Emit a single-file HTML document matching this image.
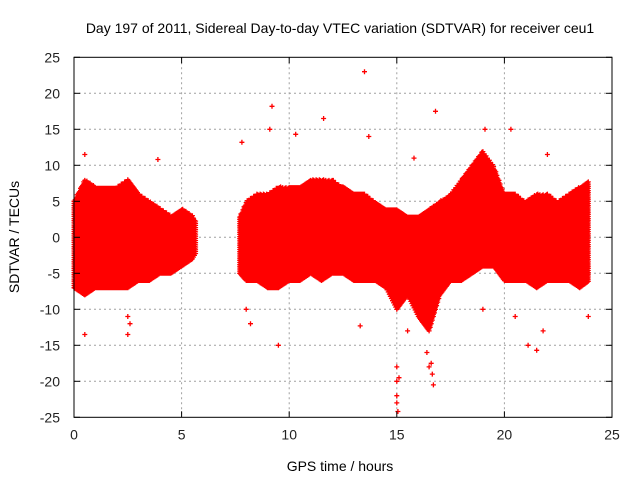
<!DOCTYPE html>
<html><head><meta charset="utf-8"><style>
body{margin:0;background:#fff}
svg{display:block;font-family:"Liberation Sans",sans-serif}
</style></head><body>
<svg id="c" width="640" height="480">
<text x="340" y="33" font-size="14" text-anchor="middle">Day 197 of 2011, Sidereal Day-to-day VTEC variation (SDTVAR) for receiver ceu1</text>
<text x="340" y="471" font-size="14" text-anchor="middle">GPS time / hours</text>
<text transform="translate(19,237) rotate(-90)" font-size="14" text-anchor="middle">SDTVAR / TECUs</text>
<g id="grid"></g><g id="marks"></g><g id="axes"></g>
</svg>
<script>
const xTicks=[0,5,10,15,20,25];
const yTicks=[-25,-20,-15,-10,-5,0,5,10,15,20,25];
const bandTimes=[0,0.5,1,1.5,2,2.5,3,3.5,4,4.5,5,5.5,5.7,
 7.7,8,8.5,9,9.5,10,10.5,11,11.5,12,12.5,13,13.5,14,14.5,15,15.5,16,16.5,17,17.5,18,18.5,19,19.5,20,20.5,21,21.5,22,22.5,23,23.5,23.95];
const bandLow=[-7,-8,-7,-7,-7,-7,-6,-6,-5,-5,-4,-3,-2,
 -5,-6,-6,-7,-7,-6,-6,-5,-6,-5,-5,-6,-6,-6,-7,-10,-8,-11,-13,-8,-6,-6,-5,-4,-4,-6,-6,-6,-7,-6,-6,-6,-7,-6];
const bandHigh=[5,8,7,7,7,8,6,5,4,3,4,3,2,
 3,5,6,6,7,7,7,8,8,8,7,6,6,5,4,4,3,3,4,5,6,8,10,12,10,6,6,5,6,6,5,6,7,8];
const outX=[0.5,0.5,2.5,2.5,2.6,3.9,7.8,8.0,8.2,9.2,9.1,9.5,10.3,11.6,13.5,13.7,13.3,15.0,15.0,15.0,15.0,15.05,15.1,16.5,16.6,16.65,16.7,16.8,15.8,19.1,20.3,21.5,21.1,21.8,22,23.9,16.4,15.5,19,20.5];
const outY=[11.5,-13.5,-11,-13.5,-12,10.8,13.2,-10,-12,18.2,15,-15,14.3,16.5,23,14,-12.3,-18,-20,-22,-23,-24.2,-19.5,-18,-17.5,-19,-20.5,17.5,11,15,15,-15.7,-15,-13,11.5,-11,-16,-13,-10,-11];
const X0=74,X1=612,Y0=57.3,Y1=417.3;
const sx=v=>X0+(v-0)/25*(X1-X0);
const sy=v=>Y1-(v+25)/50*(Y1-Y0);
const NS="http://www.w3.org/2000/svg";
function mk(t,a,p){const e=document.createElementNS(NS,t);for(const k in a)e.setAttribute(k,a[k]);p.appendChild(e);return e;}
const grid=document.getElementById('grid'),axes=document.getElementById('axes'),marks=document.getElementById('marks');
xTicks.forEach(v=>{
 if(v>0&&v<25){const l=mk('line',{x1:sx(v),x2:sx(v),y1:Y0,y2:Y1,stroke:'#a0a0a0','stroke-dasharray':'2,3'},grid);
 
 }
 mk('line',{x1:sx(v),x2:sx(v),y1:Y1,y2:Y1-6,stroke:'#000'},axes);
 mk('line',{x1:sx(v),x2:sx(v),y1:Y0,y2:Y0+6,stroke:'#000'},axes);
 const t=mk('text',{x:sx(v),y:Y1+22,'font-size':14,'text-anchor':'middle',fill:'#222'},axes);t.textContent=v;
 
 
});
yTicks.forEach(v=>{
 if(v>-25&&v<25){const l=mk('line',{x1:X0,x2:X1,y1:sy(v),y2:sy(v),stroke:'#a0a0a0','stroke-dasharray':'2,3'},grid);
 
 }
 mk('line',{x1:X0,x2:X0+6,y1:sy(v),y2:sy(v),stroke:'#000'},axes);
 mk('line',{x1:X1,x2:X1-6,y1:sy(v),y2:sy(v),stroke:'#000'},axes);
 const t=mk('text',{x:X0-14,y:sy(v)+5,'font-size':14,'text-anchor':'end',fill:'#222'},axes);t.textContent=v;
 
 
});
const fr=mk('rect',{x:X0,y:Y0,width:X1-X0,height:Y1-Y0,fill:'none',stroke:'#000'},axes);


let d='';
function cross(x,y){const px=sx(x),py=sy(y);d+=`M${(px-2.5).toFixed(1)} ${py.toFixed(1)}h5M${px.toFixed(1)} ${(py-2.5).toFixed(1)}v5`;}
for(let i=0;i<bandTimes.length-1;i++){
 const t0=bandTimes[i],t1=bandTimes[i+1];
 if(t1-t0>1)continue;
 for(let t=t0;t<t1-1e-6;t+=0.05){
  const f=(t-t0)/(t1-t0);
  const lo=bandLow[i]+(bandLow[i+1]-bandLow[i])*f;
  const hi=bandHigh[i]+(bandHigh[i+1]-bandHigh[i])*f;
  for(let y=lo;y<=hi;y+=0.3)cross(t,y);
 }
}
for(let i=0;i<outX.length;i++)cross(outX[i],outY[i]);
const p=mk('path',{d:d,stroke:'#ff0000','stroke-width':1.3,fill:'none'},marks);


</script>
</body></html>
